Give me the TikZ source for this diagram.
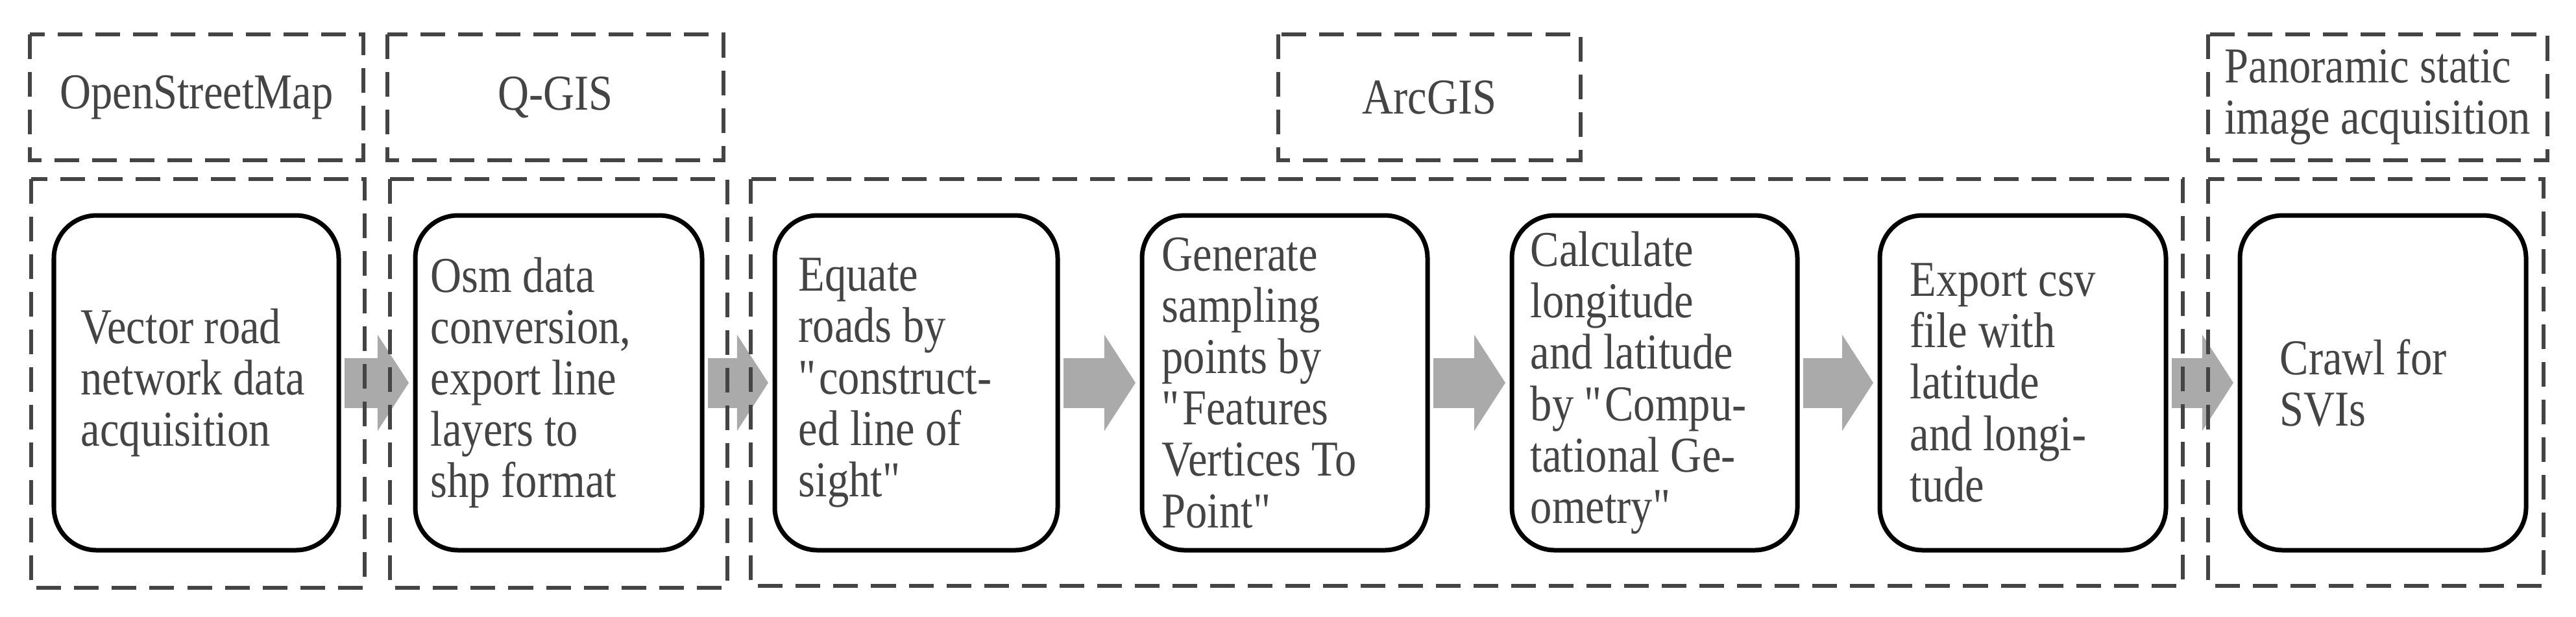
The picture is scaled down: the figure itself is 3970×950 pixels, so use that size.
\documentclass[tikz,border=0pt]{standalone}
\usepackage{fontspec}
\setmainfont{Liberation Serif}
\newfontfamily\condser{Liberation Serif}[FakeStretch=0.86]
\newcommand\qq{\textquotedbl}
\usetikzlibrary{arrows.meta}
\definecolor{dgray}{HTML}{444444}
\definecolor{agray}{HTML}{AAAAAA}
\begin{document}
\begin{tikzpicture}[x=0.01cm,y=-0.01cm,
  grp/.style={draw=dgray,line width=0.06cm,dash pattern=on 0.38cm off 0.2cm},
  stepbox/.style={draw=black,line width=0.07cm,rounded corners=0.66cm},
  txt/.style={anchor=west,align=left,inner sep=0pt,text=dgray,font=\condser\fontsize{22pt}{22.5pt}\selectfont},
  ttl/.style={align=center,inner sep=0pt,text=dgray,font=\condser\fontsize{22pt}{22.5pt}\selectfont},
  flow/.style={draw=agray,line width=0.77cm,-{Triangle[length=0.48cm,width=1.46cm]},shorten <=0.09cm,shorten >=0.1cm}]
\useasboundingbox (0,0) rectangle (3970,950);
% step boxes
\foreach \n/\l/\r in {b1/83/522,b2/640/1082,b3/1194/1630,b4/1760/2200,b5/2330/2770,b6/2897/3338,b7/3452/3893}{
  \draw[stepbox] (\l,332) rectangle (\r,848);
  \coordinate (\n w) at (\l,590); \coordinate (\n e) at (\r,590);
}
\node[txt] (t1) at (124,590) {Vector road\\network data\\acquisition};
\node[txt] (t2) at (663,590) {Osm data\\conversion,\\export line\\layers to\\shp format};
\node[txt] (t3) at (1230,590) {Equate\\roads by\\\qq{}construct-\\ed line of\\sight\qq};
\node[txt] (t4) at (1790,590) {Generate\\sampling\\points by\\\qq{}Features\\Vertices To\\Point\qq};
\node[txt] (t5) at (2358,590) {Calculate\\longitude\\and latitude\\by \qq{}Compu-\\tational Ge-\\ometry\qq};
\node[txt] (t6) at (2943,590) {Export csv\\file with\\latitude\\and longi-\\tude};
\node[txt] (t7) at (3513,590) {Crawl for\\SVIs};
% arrows
\draw[flow] (b1e) -- (b2w);
\draw[flow] (b2e) -- (b3w);
\draw[flow] (b3e) -- (b4w);
\draw[flow] (b4e) -- (b5w);
\draw[flow] (b5e) -- (b6w);
\draw[flow] (b6e) -- (b7w);
% groups
\draw[grp] (48,276) rectangle (562,906);
\draw[grp] (601,276) rectangle (1121,906);
\draw[grp] (1157,276) rectangle (3364,903);
\draw[grp] (3403,276) rectangle (3920,903);
\draw[grp] (46,53) rectangle (560,247);
\draw[grp] (597,53) rectangle (1115,247);
\draw[grp] (1970,53) rectangle (2436,247);
\draw[grp] (3403,53) rectangle (3926,247);
\node[ttl] (h1) at (303,150) {OpenStreetMap};
\node[ttl] (h2) at (856,150) {Q-GIS};
\node[ttl] (h3) at (2203,150) {ArcGIS};
\node[ttl,align=left] (h4) at (3664,150) {Panoramic static\\image acquisition};
\end{tikzpicture}
\end{document}
